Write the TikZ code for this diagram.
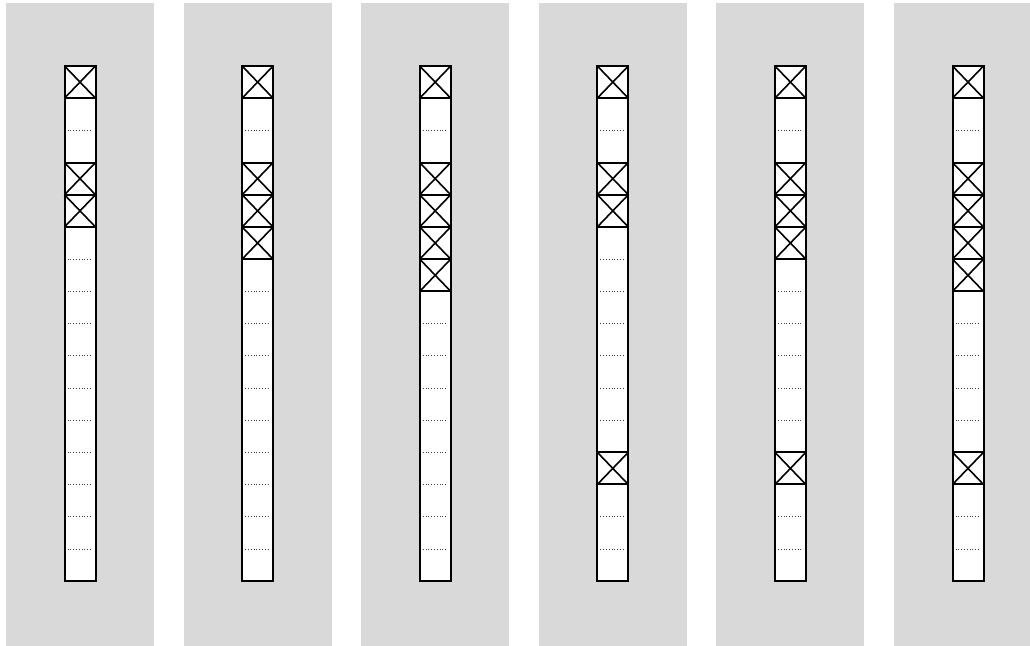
\documentclass[tikz,border=0pt]{standalone}
\definecolor{panelgray}{HTML}{D9D9D9}
\begin{document}
\begin{tikzpicture}[x=1pt,y=-1pt,
  panel/.style={fill=panelgray,draw=none},
  bar/.style={draw=black,line width=2pt},
  xcell/.style={draw=black,line width=2pt,fill=white,minimum width=31pt,minimum height=32.19pt,inner sep=0pt,outer sep=0pt,anchor=north west},
  xdiag/.style={draw=black,line width=1.6pt},
  sep/.style={draw=black!75,line width=0.6pt,dash pattern=on 0.8pt off 2pt}]
\useasboundingbox (0,0) rectangle (1030,645);
\clip (0,0) rectangle (1030,645);
\foreach \k/\xs in {0/{0,3,4},1/{0,3,4,5},2/{0,3,4,5,6},3/{0,3,4,12},4/{0,3,4,5,12},5/{0,3,4,5,6,12}}{
  \pgfmathsetmacro\cx{80+177.6*\k}
  \fill[panel] (\cx-74,3) rectangle (\cx+74,650);
  \fill[white] (\cx-15.5,66) rectangle (\cx+15.5,581);
  \foreach \i in {1,...,15}
    \draw[sep] (\cx-12.5,66+32.19*\i) -- (\cx+12.5,66+32.19*\i);
  \foreach \c in \xs {
    \node[xcell] (x\k-\c) at (\cx-15.5,66+32.19*\c) {};
    \draw[xdiag] (x\k-\c.north west) -- (x\k-\c.south east);
    \draw[xdiag] (x\k-\c.south west) -- (x\k-\c.north east);
  }
  \draw[bar] (\cx-15.5,66) rectangle (\cx+15.5,581);
}
\end{tikzpicture}
\end{document}
